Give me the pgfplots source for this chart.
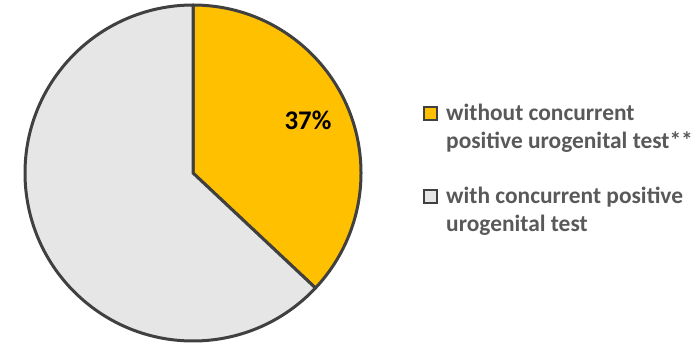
\documentclass[border=0pt]{standalone}
\usepackage{pgfplots}
\pgfplotsset{compat=1.18}
\usepackage{pgfplotstable}
\usepackage{fontspec}
\setmainfont{Carlito}
\definecolor{pieyellow}{HTML}{FFC000}
\definecolor{piegray}{HTML}{E6E6E6}
\definecolor{edge}{HTML}{404040}
\definecolor{legtext}{HTML}{595959}
\pgfplotstableread{
label value
without 37
with 63
}\piedata
\begin{document}
\begin{tikzpicture}
\pgfplotstablegetelem{0}{value}\of\piedata \let\va\pgfplotsretval
\pgfplotstablegetelem{1}{value}\of\piedata \let\vb\pgfplotsretval
\begin{axis}[
  scale only axis, width=700bp, height=346bp,
  xmin=0, xmax=700, ymin=0, ymax=346,
  hide axis, clip=false,
]
\path (axis cs:0,0) rectangle (axis cs:700,346);
% slice 1: starts at 12 o'clock, clockwise
\pgfmathsetmacro{\angA}{90-3.6*\va}
\filldraw[fill=pieyellow, draw=edge, line width=3bp, line join=round]
  (axis cs:193,173) -- (axis cs:193,341) arc[start angle=90, end angle=\angA, radius=168bp] -- cycle;
\filldraw[fill=piegray, draw=edge, line width=3bp, line join=round]
  (axis cs:193,173) -- ++(\angA:168bp) arc[start angle=\angA, end angle=\angA-3.6*\vb, radius=168bp] -- cycle;
\node[anchor=base, font=\fontsize{27}{30}\selectfont\bfseries, text=black, inner sep=0pt] at (axis cs:308,217) {\va\%};
% legend
\filldraw[fill=pieyellow, draw=edge, line width=2.2bp] (axis cs:424,226) rectangle (axis cs:437,239);
\filldraw[fill=piegray, draw=edge, line width=2.2bp] (axis cs:424,143) rectangle (axis cs:437,156);
\node[anchor=base west, font=\fontsize{23.5}{28}\selectfont\bfseries, text=legtext, inner sep=0pt] at (axis cs:446,226) {without concurrent};
\node[anchor=base west, font=\fontsize{23.5}{28}\selectfont\bfseries, text=legtext, inner sep=0pt] at (axis cs:446,198) {positive urogenital test**};
\node[anchor=base west, font=\fontsize{23.5}{28}\selectfont\bfseries, text=legtext, inner sep=0pt] at (axis cs:446,143) {with concurrent positive};
\node[anchor=base west, font=\fontsize{23.5}{28}\selectfont\bfseries, text=legtext, inner sep=0pt] at (axis cs:446,115) {urogenital test};
\end{axis}
\end{tikzpicture}
\end{document}
